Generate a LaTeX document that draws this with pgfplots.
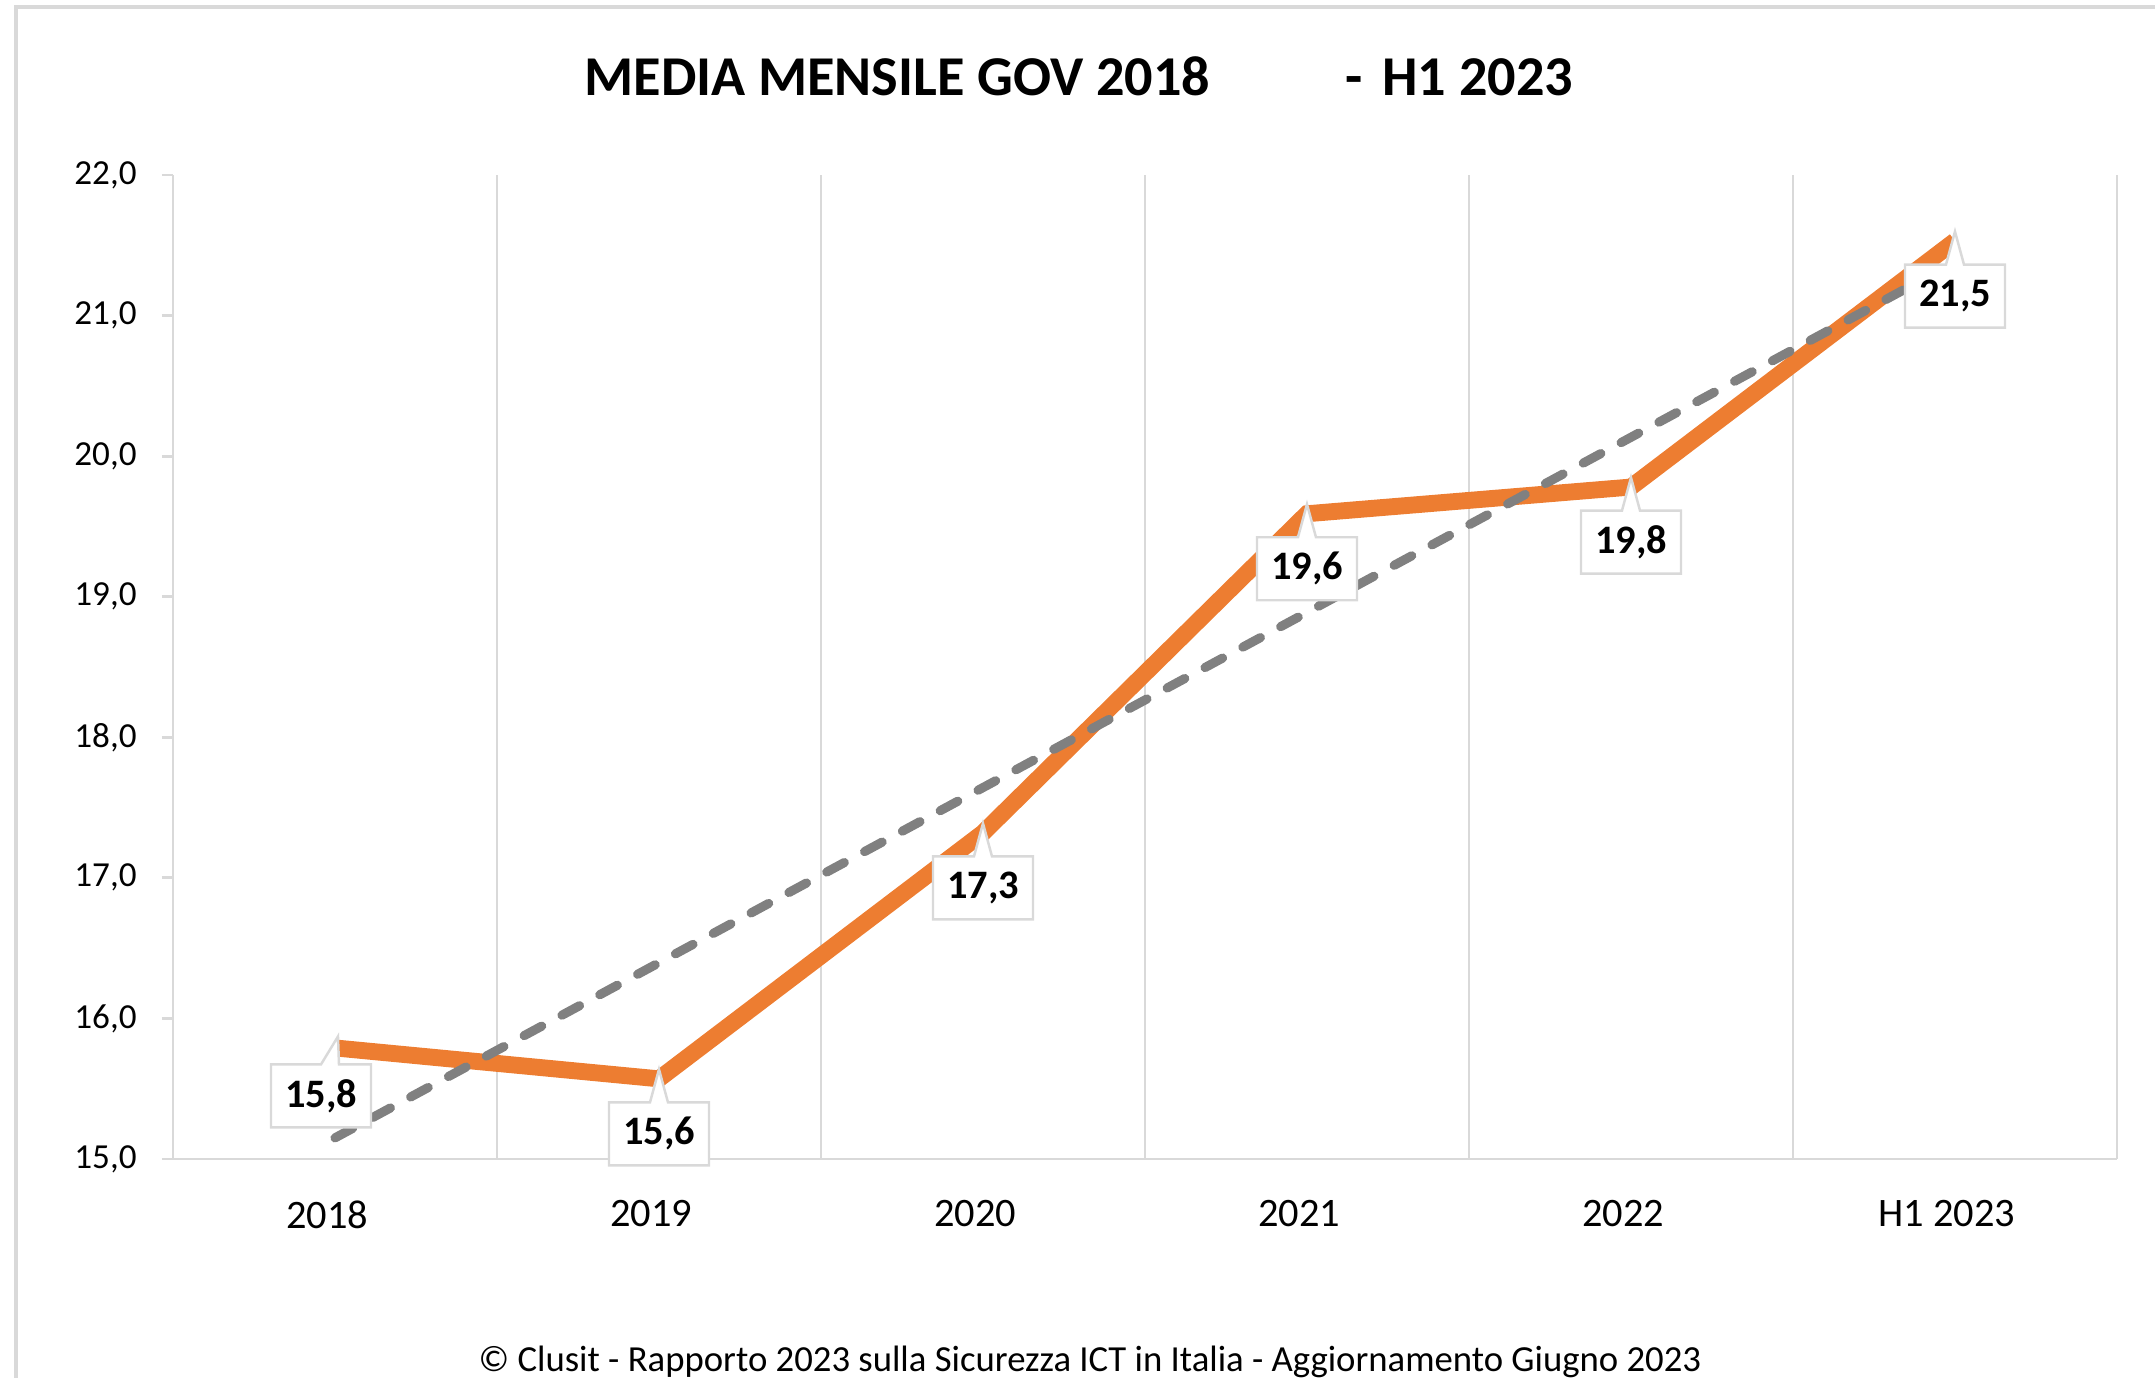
\documentclass[border=0pt]{standalone}
\usepackage{fontspec}
\setmainfont{Carlito}
\usepackage{pgfplots}
\usepackage{pgfplotstable}
\pgfplotsset{compat=1.18}
\usetikzlibrary{shapes.callouts}

\definecolor{xlorange}{RGB}{237,125,49}
\definecolor{trendgray}{RGB}{128,128,128}
\definecolor{gridgray}{RGB}{217,217,217}

% monthly mean of GOV incidents, x = category index
\pgfplotstableread{
x y
0 15.79
1 15.57
2 17.32
3 19.59
4 19.78
5 21.53
}\govdata

% boxed data label: #1/#2 = shift of the box centre, #3/#4 = callout pointer
\pgfplotsset{
  govlabel/.style n args={4}{
    draw=none,
    nodes near coords={\pgfmathprintnumber[fixed, fixed zerofill, precision=1, use comma, assume math mode=true]{\pgfplotspointmeta}},
    every node near coord/.append style={
        rectangle callout, draw=gridgray, fill=white, line width=0.7pt,
        text=black, font=\bfseries\fontsize{11.5}{13}\selectfont,
        anchor=center, inner sep=0pt, minimum width=10mm, minimum height=6.3mm,
        xshift=#1, yshift=#2,
        callout relative pointer={(#3,#4)},
        callout pointer width=1.8mm},
  },
}

\begin{document}
\begin{tikzpicture}
\path[use as bounding box] (0,0) rectangle (21.55,13.78);
\draw[gridgray, line width=1pt] (0.16,0) -- (0.16,13.71) -- (21.55,13.71);

\node[anchor=base west, font=\bfseries\fontsize{16}{19}\selectfont] at (5.72,12.82) {MEDIA MENSILE GOV 2018};
\node[anchor=base west, font=\bfseries\fontsize{16}{19}\selectfont] at (13.33,12.82) {-\hspace{0.35em}H1 2023};

\begin{axis}[
    at={(1.73cm,2.19cm)}, anchor=south west,
    width=19.44cm, height=9.84cm, scale only axis,
    clip=false,
    xmin=-0.5, xmax=5.5, ymin=15, ymax=22,
    xtick={0,...,5},
    xticklabels={2018,2019,2020,2021,2022,H1 2023},
    ytick={15,...,22},
    yticklabels={{15,0},{16,0},{17,0},{18,0},{19,0},{20,0},{21,0},{22,0}},
    minor xtick={-0.5,0.5,...,5.5},
    xminorgrids,
    minor grid style={gridgray, line width=0.8pt},
    minor tick length=0pt,
    axis x line*=bottom, axis y line*=left,
    axis line style={gridgray, line width=0.8pt, -},
    tick align=outside,
    major tick length=1.1mm,
    xtick style={draw=none},
    ytick style={gridgray, line width=0.8pt},
    xticklabel style={font=\fontsize{11.5}{13}\selectfont, text=black, yshift=-1.8mm, xshift=-0.8mm},
    yticklabel style={font=\fontsize{10}{12}\selectfont, text=black, xshift=-1.3mm},
]
\addplot[xlorange, line width=4.8pt] table[x=x, y=y] {\govdata};
\addplot[govlabel={-1.4mm}{-4.8mm}{0.8mm}{2.8mm}] table[x=x, y=y, skip coords between index={1}{6}] {\govdata};
\addplot[govlabel={0mm}{-5.5mm}{0mm}{3.3mm}] table[x=x, y=y, skip coords between index={0}{1}] {\govdata};
\addplot[trendgray, line width=2.6pt, line cap=round, dash pattern=on 2mm off 2.3mm]
    coordinates {(0,15.15) (5,21.38)};
\end{axis}

\node[anchor=base, font=\fontsize{10.45}{12}\selectfont] at (10.9,0.06)
    {© Clusit - Rapporto 2023 sulla Sicurezza ICT in Italia - Aggiornamento Giugno 2023};
\end{tikzpicture}
\end{document}
